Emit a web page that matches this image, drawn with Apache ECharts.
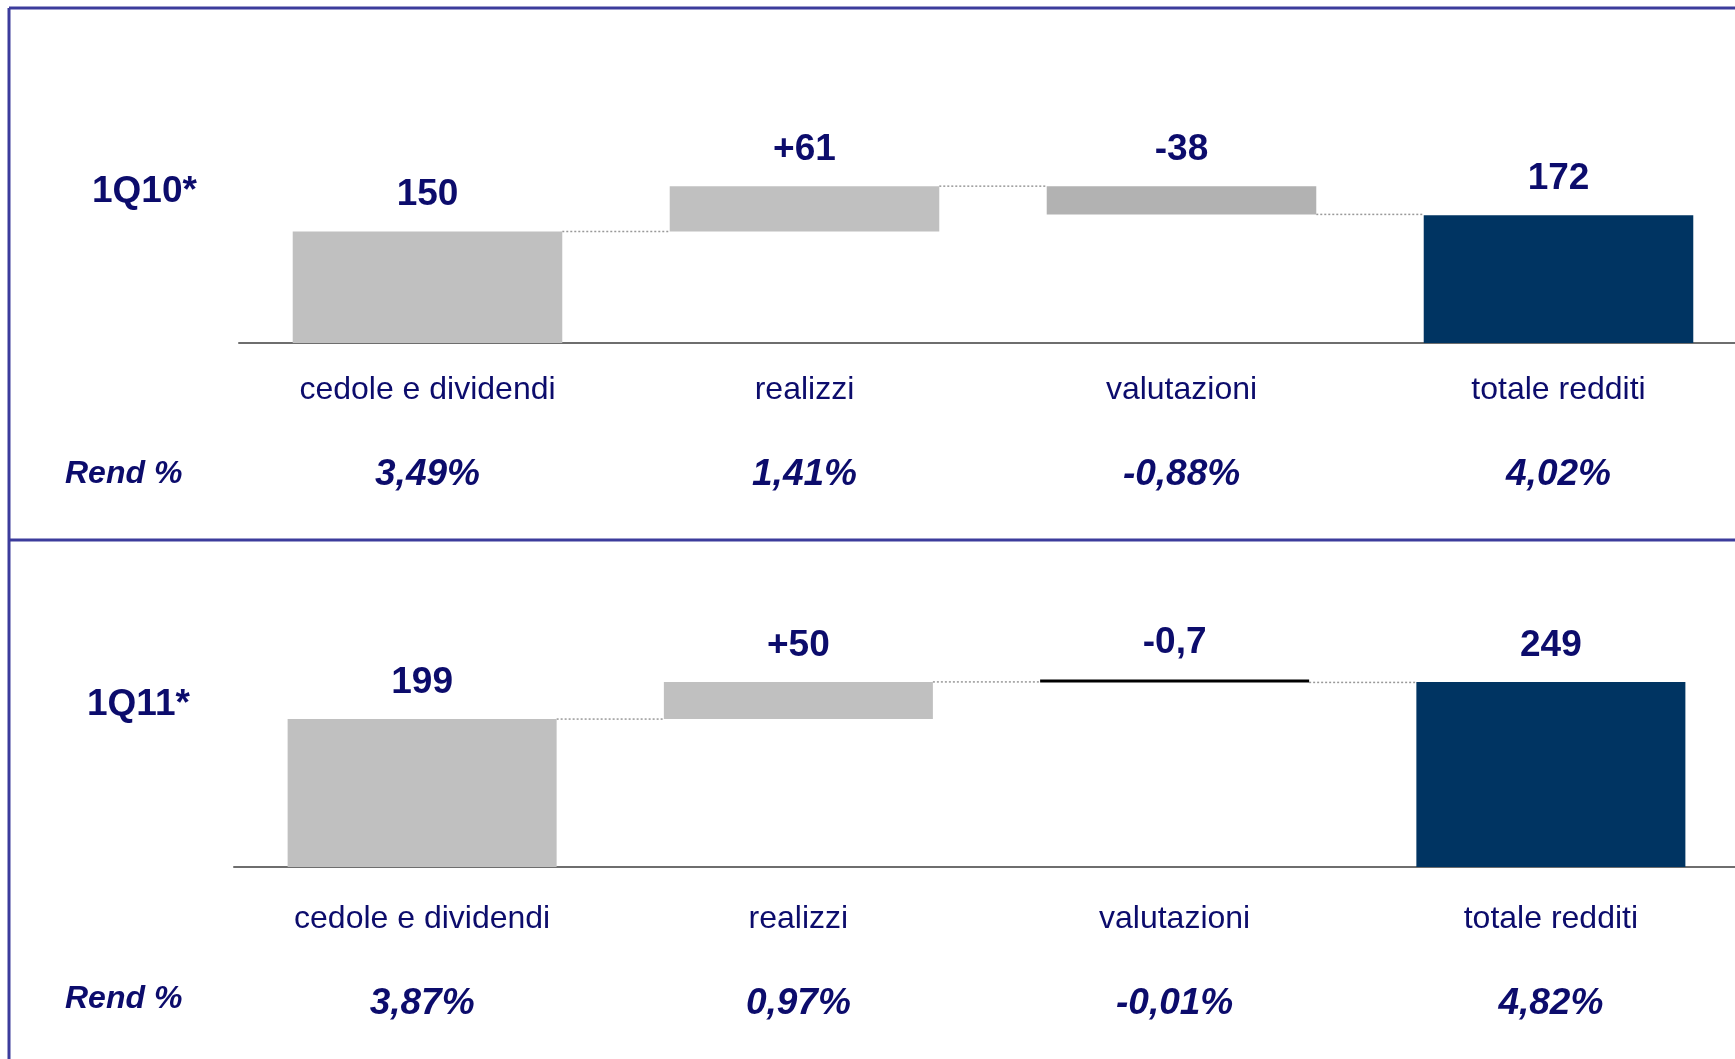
<!DOCTYPE html>
<html lang="it">
<head>
    <meta charset="UTF-8">
    <title>Redditi 1Q10 / 1Q11</title>
    <script src="https://cdn.jsdelivr.net/npm/echarts@6/dist/echarts.min.js"></script>
    <style>
        html, body { margin: 0; padding: 0; background: #fff; }
        #chart { width: 1735px; height: 1059px; }
    </style>
</head>
<body>
<div id="chart"></div>
<script type="text/javascript">
    // dati
    var categories = ['cedole e dividendi', 'realizzi', 'valutazioni', 'totale redditi'];
    var periods = ['1Q10*', '1Q11*'];

    var steps10 = [150, 61, -38, 172];
    var labels10 = ['150', '+61', '-38', '172'];
    var rend10 = ['3,49%', '1,41%', '-0,88%', '4,02%'];

    var steps11 = [199, 50, -0.7, 249];
    var labels11 = ['199', '+50', '-0,7', '249'];
    var rend11 = ['3,87%', '0,97%', '-0,01%', '4,82%'];

    var navy = '#0c0c6c';
    var font = '"Liberation Sans", Arial, sans-serif';
    var colors10 = ['#c0c0c0', '#c0c0c0', '#b2b2b2', '#003462'];
    var colors11 = ['#c0c0c0', '#c0c0c0', '#000000', '#003462'];

    // base trasparente + delta, come in un classico waterfall
    function waterfall(steps) {
        var base = [], delta = [], links = [];
        var run = 0;
        steps.forEach(function (v, i) {
            if (i === 0 || i === steps.length - 1) {
                base.push(0);
                delta.push(Math.abs(v));
                run = v;
            } else if (v >= 0) {
                base.push(run);
                delta.push(v);
                run += v;
            } else {
                base.push(run + v);
                delta.push(-v);
                run += v;
            }
            if (i < steps.length - 1) links.push([i, run]);
        });
        return { base: base, delta: delta, links: links };
    }

    var w10 = waterfall(steps10);
    var w11 = waterfall(steps11);

    var chartDom = document.getElementById('chart');
    var myChart = echarts.init(chartDom);

    function xAxis(gridIndex, rend) {
        return {
            type: 'category',
            gridIndex: gridIndex,
            data: categories,
            axisTick: { show: false },
            axisLine: { lineStyle: { color: '#6e6e6e', width: 2 } },
            axisLabel: {
                interval: 0,
                margin: gridIndex === 0 ? 27 : 32,
                formatter: function (v, idx) {
                    return '{c|' + v + '}\n{p|' + rend[idx] + '}';
                },
                rich: {
                    c: { fontFamily: font, fontSize: 32, color: navy, lineHeight: 40 },
                    p: { fontFamily: font, fontSize: 37, fontWeight: 'bold', fontStyle: 'italic', color: navy, lineHeight: 130 }
                }
            }
        };
    }

    function yAxis(gridIndex) {
        return { type: 'value', gridIndex: gridIndex, min: 0, max: 300, show: false, splitLine: { show: false } };
    }

    function barSeries(idx, w, colors, labels) {
        return [
            {
                type: 'bar',
                xAxisIndex: idx,
                yAxisIndex: idx,
                stack: 's' + idx,
                barWidth: '71.5%',
                itemStyle: { color: 'transparent' },
                silent: true,
                data: w.base
            },
            {
                type: 'bar',
                xAxisIndex: idx,
                yAxisIndex: idx,
                stack: 's' + idx,
                barWidth: '71.5%',
                barMinHeight: 3,
                data: w.delta.map(function (v, i) {
                    return { value: v, itemStyle: { color: colors[i] } };
                }),
                label: {
                    show: true,
                    position: 'top',
                    distance: 18,
                    fontFamily: font,
                    fontSize: 37,
                    fontWeight: 'bold',
                    color: navy,
                    formatter: function (p) { return labels[p.dataIndex]; }
                }
            },
            {
                type: 'custom',
                xAxisIndex: idx,
                yAxisIndex: idx,
                silent: true,
                z: 1,
                data: w.links,
                renderItem: function (params, api) {
                    var a = api.coord([api.value(0), api.value(1)]);
                    var b = api.coord([api.value(0) + 1, api.value(1)]);
                    var hw = api.size([1, 0])[0] * 0.715 / 2;
                    return {
                        type: 'line',
                        shape: { x1: a[0] + hw, y1: a[1], x2: b[0] - hw, y2: b[1] },
                        style: { stroke: '#999999', lineWidth: 1.5, lineDash: [2, 2] }
                    };
                }
            }
        ];
    }

    var frame = '#3c3c9c';
    var option = {
        animation: false,
        backgroundColor: '#ffffff',
        grid: [
            { left: 239, top: 120, width: 1508, height: 223, outerBoundsMode: 'none' },
            { left: 234, top: 644, width: 1505, height: 223, outerBoundsMode: 'none' }
        ],
        xAxis: [xAxis(0, rend10), xAxis(1, rend11)],
        yAxis: [yAxis(0), yAxis(1)],
        series: barSeries(0, w10, colors10, labels10).concat(barSeries(1, w11, colors11, labels11)),
        graphic: [
            { type: 'line', shape: { x1: 9, y1: 8, x2: 1735, y2: 8 }, style: { stroke: frame, lineWidth: 3 } },
            { type: 'line', shape: { x1: 9, y1: 8, x2: 9, y2: 1059 }, style: { stroke: frame, lineWidth: 3 } },
            { type: 'line', shape: { x1: 9, y1: 540, x2: 1735, y2: 540 }, style: { stroke: frame, lineWidth: 3 } },
            {
                type: 'text', left: 92, top: 173,
                style: { text: periods[0], fill: navy, font: 'bold 37px ' + font }
            },
            {
                type: 'text', left: 87, top: 686,
                style: { text: periods[1], fill: navy, font: 'bold 37px ' + font }
            },
            {
                type: 'text', left: 65, top: 458,
                style: { text: 'Rend %', fill: navy, font: 'italic bold 32px ' + font }
            },
            {
                type: 'text', left: 65, top: 983,
                style: { text: 'Rend %', fill: navy, font: 'italic bold 32px ' + font }
            }
        ]
    };

    myChart.setOption(option);
</script>
</body>
</html>
